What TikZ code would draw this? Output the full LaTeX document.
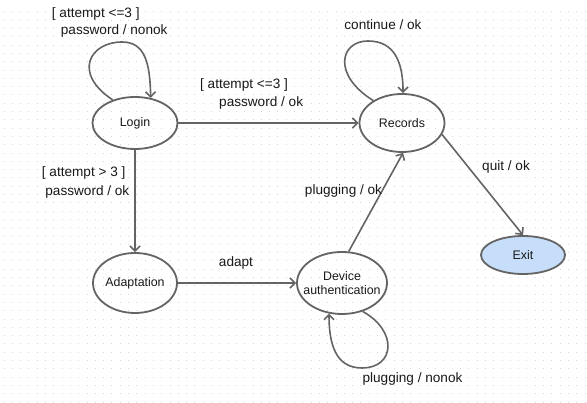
\documentclass[tikz,border=0pt]{standalone}
\usepackage{fontspec}
\setmainfont{Liberation Sans}
\usetikzlibrary{shapes.geometric,arrows.meta}
\definecolor{linec}{RGB}{100,100,100}
\definecolor{dotc}{RGB}{215,215,215}
\definecolor{exitc}{RGB}{198,222,250}
\tikzset{
  statebox/.style={ellipse, draw=linec, line width=1.8pt, inner sep=0pt, align=center,
    font=\fontsize{12.4}{14}\selectfont, text=black!90},
  trans/.style={draw=linec, line width=1.6pt,
    -{Straight Barb[length=5pt,width=10pt]}},
  lbl/.style={inner sep=0pt, font=\fontsize{13.6}{18}\selectfont, text=black!90},
}
\begin{document}
\begin{tikzpicture}[x=1pt,y=1pt]
\useasboundingbox (0,0) rectangle (587,403);
\fill[white] (0,0) rectangle (587,403);
\foreach \i in {0,...,70} {
  \foreach \j in {0,...,47} {
    \fill[dotc] ({3.5+8.3*\i},{396.5-6-8.3*\j}) rectangle ++(1,1);
  }
}
% states
\node[statebox, minimum width=85pt, minimum height=52pt] (login) at (135,280) {Login};
\node[statebox, minimum width=85pt, minimum height=58pt] (rec) at (402,280) {Records};
\node[statebox, minimum width=84pt, minimum height=60pt] (adapt) at (135,120) {Adaptation};
\node[statebox, minimum width=90pt, minimum height=62pt, inner xsep=-8pt] (dev) at (342,120) {Device\\authentication};
\node[statebox, minimum width=84pt, minimum height=38pt, fill=exitc] (exit) at (523,148) {Exit};
% transitions
\draw[trans] (login.134) .. controls (72,330) and (90,361) .. (122,361)
  .. controls (145,361) and (150,340) .. (login.58);
\draw[trans] (login.east) -- (rec.west);
\draw[trans] (login.south) -- (adapt.north);
\draw[trans] (adapt.east) -- (dev.west);
\draw[trans] (dev.78) -- (rec.-88);
\draw[trans] (rec.-16) -- (exit.north);
\draw[trans] (rec.142) .. controls (332,328) and (340,362) .. (368,362)
  .. controls (395,362) and (403,340) .. (rec.88);
\draw[trans] (dev.-54) .. controls (398,72) and (395,35) .. (362,35)
  .. controls (335,35) and (329,60) .. (dev.-113);
% labels
\node[lbl, align=left, anchor=west, font=\fontsize{13.6}{16.7}\selectfont] (l1) at (51.7,380.6)
  {[ attempt <=3 ]\\\hspace*{9pt}password / nonok};
\node[lbl, align=left, anchor=west] (l2) at (200,309)
  {[ attempt <=3 ]\\\hspace*{19pt}password / ok};
\node[lbl, align=left, anchor=west, font=\fontsize{13.6}{18.6}\selectfont] (l3) at (41.7,220.6)
  {[ attempt > 3 ]\\\hspace*{3.5pt}password / ok};
\node[lbl] (l4) at (383,378) {continue / ok};
\node[lbl] (l5) at (343.5,212) {plugging / ok};
\node[lbl] (l6) at (506,236) {quit / ok};
\node[lbl] (l7) at (236,140) {adapt};
\node[lbl] (l8) at (412.5,24) {plugging / nonok};
\end{tikzpicture}
\end{document}
